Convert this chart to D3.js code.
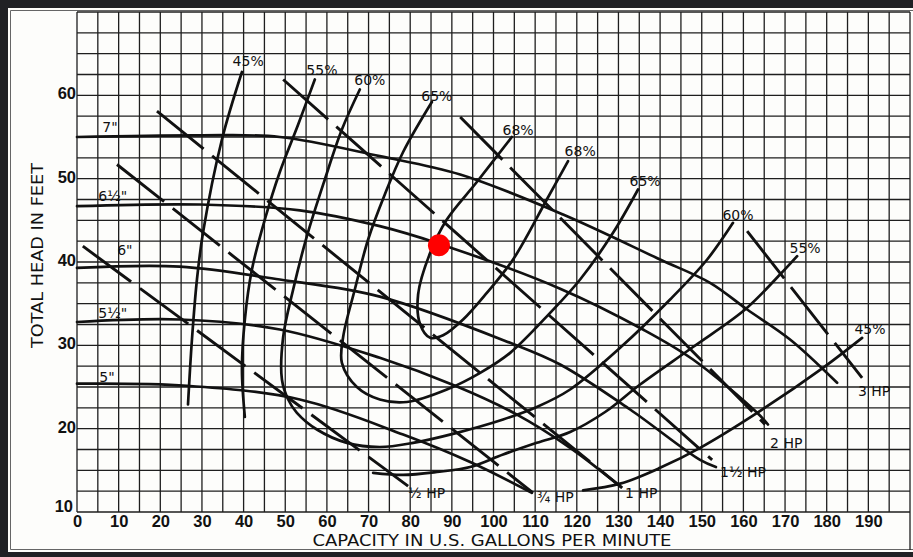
<!DOCTYPE html>
<html><head><meta charset="utf-8">
<script src="https://cdn.jsdelivr.net/npm/d3@7"></script>
<style>
html,body{margin:0;padding:0;background:#202125;}
svg{display:block;}
</style></head>
<body><svg id="c" width="913" height="557"></svg>
<script>
// ---------- DATA (capacity GPM, head ft) ----------
const xTicks = [0,10,20,30,40,50,60,70,80,90,100,110,120,130,140,150,160,170,180,190];
const yTicks = [10,20,30,40,50,60];

// impeller head curves
const head7   = [[0,55.0],[29.5,55.2],[48.7,55.0],[72.7,52.7],[92.0,50.5],[116.7,45.7],[140.0,40.3],[152.0,37.5],[160.9,34.3],[171.2,30.7],[182.5,25.5]];
const head65  = [[0,46.7],[29.5,46.9],[53.5,46.2],[72.7,44.3],[86.9,42.2],[116.0,36.8],[135.9,31.9],[147.9,28.3],[163.3,21.9],[165.9,20.5]];
const head6   = [[0,39.3],[24.7,39.45],[48.7,37.9],[72.7,35.85],[104.0,30.3],[116.0,27.7],[132.8,22.3],[149.6,16.25],[153.4,15.4]];
const head55  = [[0,32.8],[24.7,33.1],[48.7,31.9],[72.7,28.5],[90.8,25.15],[105.2,21.8],[118.4,17.7],[130.6,13.0]];
const head5   = [[0,25.4],[26.4,25.15],[53.5,23.5],[78.3,19.3],[94.4,16.0],[109.2,12.3]];
const impellerNames = ['7"','6½"','6"','5½"','5"'];
const impellerLabelAt = [[7.9,55.6],[8.6,47.3],[11.5,40.8],[8.6,33.3],[7.2,25.6]];

// efficiency curves
const eff45a = [[39.6,62.8],[34.8,54.7],[30.25,43.5],[28.8,37.9],[27.6,30.7],[26.65,22.9]];
const eff45b = [[121.5,12.6],[130.4,13.4],[140.0,15.3],[149.6,17.7],[163.3,21.9],[179.1,27.3],[188.5,30.9]];
const eff55a = [[57.1,61.9],[53.1,56.5],[48.7,50.8],[45.1,45.1],[42.0,39.1],[40.3,33.1],[39.6,27.1],[40.3,21.4]];
const eff55b = [[71.1,14.7],[78.3,14.45],[86.4,14.8],[94.4,15.4],[102.3,16.9],[110.4,18.3],[118.4,19.6],[126.8,22.0],[135.2,25.3],[147.9,29.8],[160.4,34.3],[168.8,38.5],[172.9,40.7]];
const eff60  = [[67.9,60.7],[63.6,55.9],[59.5,49.9],[55.2,43.1],[51.9,36.7],[49.5,31.0],[49.2,25.9],[50.7,23.5],[52.8,21.9],[57.6,19.9],[64.8,18.3],[72.7,17.8],[80.7,18.3],[91.2,19.5],[102.3,21.1],[110.4,22.6],[118.4,24.7],[130.4,29.7],[142.4,35.5],[151.3,40.3],[157.5,44.7]];
const eff65  = [[85.2,59.2],[78.3,53.2],[73.9,48.1],[69.9,42.7],[66.7,36.7],[63.9,31.0],[63.6,27.9],[67.2,25.0],[72.7,23.5],[79.2,23.2],[88.8,24.7],[96.8,26.7],[104.0,29.1],[113.6,33.9],[120.8,37.9],[128.7,43.5],[134.7,48.7]];
const eff68  = [[104.4,55.0],[96.0,49.6],[88.8,45.1],[84.8,41.1],[81.9,36.1],[82.4,32.5],[84.8,30.9],[87.9,31.2],[92.7,33.1],[98.4,36.3],[104.7,40.3],[112.8,47.5],[117.9,52.1]];
const effNames = ["45%","55%","60%","65%","68%","68%","65%","60%","55%","45%"];
const effLabelAt = [[41.1,63.5],[58.8,62.5],[70.3,61.3],[86.4,59.3],[105.9,55.3],[120.8,52.7],[136.4,49.1],[158.7,45.1],[174.8,41.1],[190.4,31.4]];

// horsepower lines
const hpHalf  = [[1.4,41.9],[79.5,13.1]];
const hpThreeQ= [[9.6,51.7],[109.5,12.3]];
const hpOne   = [[19.2,58.1],[130.9,12.9]];
const hpOneH  = [[49.5,61.9],[152.5,16.25]];
const hpTwo   = [[92.0,57.4],[165.2,20.5]];
const hpThree = [[160.9,43.7],[188.5,26.1]];
const hpNames = ["½ HP","¾ HP","1 HP","1½ HP","2 HP","3 HP"];
const hpLabelAt = [[79.5,11.7],[110.4,11.2],[131.6,11.7],[154.4,14.2],[166.4,17.7],[187.5,23.9]];

const operatingPoint = [86.9,42.0];

// ---------- DRAW ----------
const svg = d3.select("#c");
const x = d3.scaleLinear().domain([0,200]).range([77,910]);
const y = d3.scaleLinear().domain([10,70]).range([512,12]);

// paper
svg.append("rect").attr("x",8).attr("y",8).attr("width",905).attr("height",544).attr("fill","#fdfdfb");
svg.append("path").attr("d","M913,10.5H10.5V549.5H913").attr("fill","none").attr("stroke","#666").attr("stroke-width",1);

// grid
const grid = svg.append("g").attr("stroke","#1e1e1e").attr("stroke-width",1.3);
d3.range(0,200.1,5).forEach(v=>{
  grid.append("line").attr("x1",x(v)).attr("x2",x(v)).attr("y1",y(10)).attr("y2",y(70));
});
d3.range(10,70.1,2.5).forEach(v=>{
  grid.append("line").attr("x1",x(0)).attr("x2",x(200)).attr("y1",y(v)).attr("y2",y(v));
});
grid.append("line").attr("x1",x(200)).attr("x2",x(200)).attr("y1",y(10)).attr("y2",550);

const line = d3.line().x(d=>x(d[0])).y(d=>y(d[1])).curve(d3.curveCatmullRom.alpha(0.5));
const straight = d3.line().x(d=>x(d[0])).y(d=>y(d[1]));

const curves = svg.append("g").attr("fill","none").attr("stroke","#111").attr("stroke-width",2.7).attr("stroke-linecap","round");
[head7,head65,head6,head55,head5].forEach(c=>curves.append("path").attr("d",line(c)));
[eff45a,eff45b,eff55a,eff55b,eff60,eff65,eff68].forEach(c=>curves.append("path").attr("d",line(c)));
[hpHalf,hpThreeQ,hpOne,hpOneH,hpTwo,hpThree].forEach(c=>curves.append("path").attr("d",straight(c)).attr("stroke-dasharray","60,11").attr("stroke-linecap","butt").attr("stroke-width",2.9));

// labels
const lab = svg.append("g").attr("font-family","DejaVu Sans, sans-serif").attr("fill","#111");
impellerNames.forEach((t,i)=>lab.append("text").attr("x",x(impellerLabelAt[i][0])).attr("y",y(impellerLabelAt[i][1])).attr("text-anchor","middle").attr("font-size",14).text(t));
effNames.forEach((t,i)=>lab.append("text").attr("x",x(effLabelAt[i][0])).attr("y",y(effLabelAt[i][1])).attr("text-anchor","middle").attr("font-size",14).text(t));
hpNames.forEach((t,i)=>lab.append("text").attr("x",x(hpLabelAt[i][0])).attr("y",y(hpLabelAt[i][1])).attr("text-anchor","start").attr("font-size",14).text(t));

// operating point
svg.append("circle").attr("cx",x(operatingPoint[0])).attr("cy",y(operatingPoint[1])).attr("r",11).attr("fill","#ff0000");

// axes
const xa = svg.append("g").attr("transform","translate(0,512)")
  .call(d3.axisBottom(x).tickValues(xTicks).tickSize(0).tickPadding(3));
xa.select(".domain").remove();
xa.selectAll("text").attr("font-family","Liberation Sans, Arial, sans-serif").attr("font-size",16.5).attr("font-weight","bold").attr("fill","#111");

const ya = svg.append("g").attr("transform","translate(77,0)")
  .call(d3.axisLeft(y).tickValues(yTicks).tickSize(0).tickPadding(1));
ya.select(".domain").remove();
ya.selectAll("text").attr("font-family","Liberation Sans, Arial, sans-serif").attr("font-size",16.5).attr("font-weight","bold").attr("fill","#111").attr("dy","0.22em");
// lift the lowest y label clear of the x-axis "0", as in the original
ya.selectAll(".tick").filter(d=>d===yTicks[0]).select("text").attr("dy","-0.02em").attr("x",-4);

svg.append("text").attr("x",492).attr("y",546).attr("text-anchor","middle")
  .attr("font-family","DejaVu Sans, sans-serif").attr("font-size",15.5).attr("fill","#111")
  .attr("textLength",359).attr("lengthAdjust","spacingAndGlyphs")
  .text("CAPACITY IN U.S. GALLONS PER MINUTE");
svg.append("text").attr("transform","translate(43,255.5) rotate(-90)").attr("text-anchor","middle")
  .attr("font-family","DejaVu Sans, sans-serif").attr("font-size",15.5).attr("fill","#111")
  .attr("textLength",185).attr("lengthAdjust","spacingAndGlyphs")
  .text("TOTAL HEAD IN FEET");
</script>
</body></html>
